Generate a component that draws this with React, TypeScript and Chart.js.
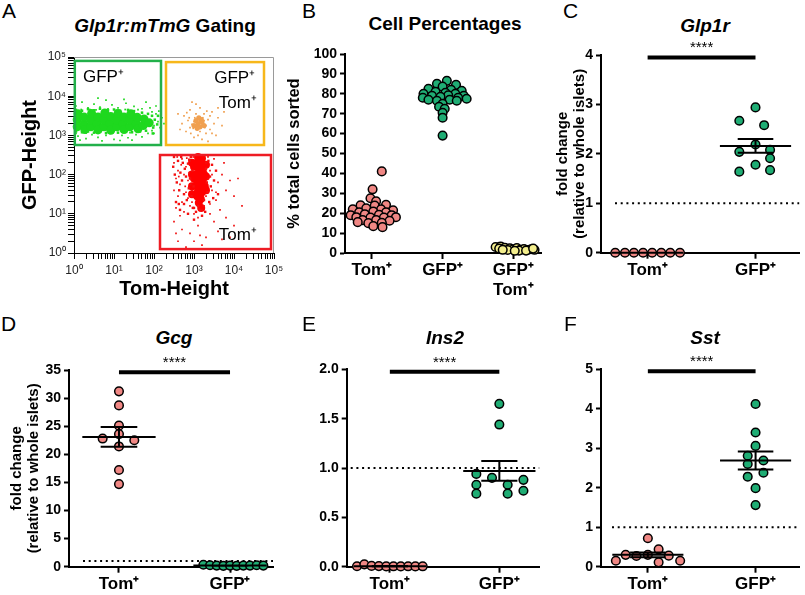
import React, { useEffect, useRef } from 'react';
import { Chart, registerables } from 'chart.js';

Chart.register(...registerables);

const FONT = '"Liberation Sans", Arial, Helvetica, sans-serif';
Chart.defaults.font.family = FONT;
Chart.defaults.color = '#000';

// ---------------- Panel A: flow cytometry gating (log10 values) ----------------
const aTickLabels = ['10⁰', '10¹', '10²', '10³', '10⁴', '10⁵'];
const aMinorSteps = [2, 3, 4, 5, 6, 7, 8, 9];

const greenCoreLog = [
  [0.08, 3.22], [0.08, 3.4], [0.1, 3.55], [0.25, 3.28], [0.25, 3.47], [0.27, 3.15],
  [0.42, 3.22], [0.42, 3.4], [0.44, 3.56], [0.58, 3.3], [0.6, 3.47], [0.6, 3.14],
  [0.75, 3.22], [0.75, 3.4], [0.77, 3.57], [0.9, 3.3], [0.92, 3.48], [0.92, 3.13],
  [1.07, 3.22], [1.07, 3.4], [1.1, 3.56], [1.23, 3.3], [1.25, 3.47], [1.25, 3.15],
  [1.4, 3.22], [1.4, 3.4], [1.42, 3.55], [1.56, 3.3], [1.58, 3.46], [1.6, 3.17],
  [1.73, 3.25], [1.75, 3.42], [1.88, 3.32],
];
const greenMidLog = [
  [0.05, 3.1], [0.2, 3.08], [0.35, 3.1], [0.5, 3.07], [0.65, 3.09], [0.8, 3.06], [0.95, 3.1],
  [1.1, 3.07], [1.3, 3.09], [1.45, 3.08], [1.65, 3.1], [1.8, 3.12], [0.05, 3.65], [0.2, 3.63],
  [0.35, 3.67], [0.5, 3.64], [0.65, 3.68], [0.85, 3.64], [1.0, 3.66], [1.15, 3.63], [1.35, 3.65],
  [1.5, 3.62], [1.7, 3.58], [1.85, 3.55], [1.98, 3.2], [2.02, 3.4], [1.95, 3.5], [2.08, 3.28],
  [1.97, 3.05], [2.1, 3.5],
];
const greenDotsLog = [
  [0.05, 3.75], [0.2, 3.85], [0.35, 3.7], [0.5, 3.8], [0.65, 3.72], [0.8, 3.9], [0.95, 3.78],
  [1.1, 3.7], [1.3, 3.82], [1.5, 3.74], [1.7, 3.68], [1.9, 3.7], [2.05, 3.55], [2.1, 3.35],
  [2.15, 3.2], [2.0, 3.05], [2.2, 3.45], [1.95, 3.6], [2.05, 3.75], [0.1, 2.98], [0.3, 2.92],
  [0.45, 3.02], [0.6, 2.95], [0.8, 3.0], [1.0, 2.9], [1.2, 3.0], [1.35, 2.94], [1.55, 3.02],
  [1.7, 2.96], [1.85, 3.05], [0.15, 2.88], [0.7, 2.86], [1.15, 2.87], [1.45, 2.88], [0.02, 3.65],
  [0.18, 3.66], [0.4, 3.66], [0.85, 3.68], [1.28, 3.66], [1.6, 3.66], [2.0, 3.25], [2.12, 3.62],
  [0.55, 3.65], [1.05, 3.64], [0.3, 3.06], [0.9, 3.05], [1.4, 3.07], [1.95, 3.12], [2.25, 3.3],
  [2.3, 3.5], [1.8, 3.85], [0.6, 3.95], [1.25, 3.92], [0.05, 3.05],
];
const orangeCoreLog = [
  [3.1, 3.3], [3.15, 3.22], [3.05, 3.38], [3.2, 3.35], [3.0, 3.25], [3.12, 3.45],
  [3.25, 3.25], [3.08, 3.18], [3.18, 3.4],
];
const orangeDotsLog = [
  [3.1, 3.3], [3.15, 3.35], [3.05, 3.25], [3.2, 3.28], [3.12, 3.4], [3.0, 3.35], [3.18, 3.2],
  [3.08, 3.15], [3.25, 3.38], [2.95, 3.28], [3.22, 3.45], [3.02, 3.45], [3.3, 3.25], [2.9, 3.2],
  [3.15, 3.1], [3.35, 3.4], [2.85, 3.38], [3.05, 3.55], [3.25, 3.55], [3.4, 3.15], [2.8, 3.1],
  [3.1, 3.0], [3.3, 3.05], [2.75, 3.5], [3.5, 3.3], [3.0, 2.95], [3.2, 2.9], [2.7, 3.3],
  [3.45, 3.6], [3.15, 3.7], [2.9, 3.65], [3.6, 3.45], [2.65, 3.15], [3.55, 3.0], [2.95, 3.85],
  [3.7, 3.25], [3.35, 2.85], [2.6, 3.55], [3.08, 3.32], [3.13, 3.26], [3.18, 3.36], [3.03, 3.38],
  [3.12, 3.22], [3.22, 3.32], [2.98, 3.18], [3.27, 3.2], [3.1, 3.45], [3.4, 3.5], [2.88, 3.45],
  [3.6, 3.7], [3.75, 3.6], [3.05, 3.8], [2.92, 3.05], [3.32, 3.62], [2.82, 3.58], [3.45, 3.05],
];
const redCoreLog = [
  [3.1, 2.45], [3.2, 2.42], [3.08, 2.3], [3.2, 2.28], [3.12, 2.15], [3.22, 2.12], [3.05, 2.0],
  [3.17, 1.98], [3.1, 1.85], [3.22, 1.85], [3.05, 1.72], [3.15, 1.7], [3.1, 1.58], [3.2, 1.55],
  [3.08, 1.45], [3.17, 1.38], [3.12, 1.28], [3.15, 2.38], [3.0, 2.2], [3.0, 1.9], [3.25, 2.0],
  [3.27, 1.7], [2.95, 2.3], [2.95, 2.0], [2.95, 1.7], [3.3, 2.25], [3.3, 1.95], [3.3, 1.6],
  [2.95, 1.5], [3.18, 1.15],
];
const redMidLog = [
  [2.48, 2.2], [2.52, 2.0], [2.57, 1.8], [2.6, 2.35], [2.63, 1.6], [2.66, 2.05], [2.7, 1.85],
  [2.72, 2.3], [2.75, 1.5], [2.77, 2.15], [2.8, 1.95], [2.82, 1.35], [2.85, 2.28], [2.87, 1.65],
  [2.9, 1.9], [2.92, 2.45], [2.94, 1.45], [2.96, 2.1], [2.97, 1.15], [2.99, 1.7], [3.3, 2.15],
  [3.32, 1.8], [3.34, 1.55], [3.36, 2.35], [3.38, 1.3], [3.4, 1.95], [3.42, 1.7], [3.45, 2.25],
  [3.48, 1.4], [3.5, 1.85], [3.55, 2.1], [3.6, 1.5], [3.0, 1.15], [3.05, 1.05], [3.1, 1.2],
  [3.15, 1.1], [3.2, 0.95], [3.25, 1.35], [3.28, 1.05], [3.0, 0.85], [2.55, 1.3], [2.65, 1.1],
  [2.75, 1.25], [2.85, 1.0], [2.68, 2.45], [2.88, 2.38], [2.5, 2.45], [2.62, 1.25],
];
const redDotsLog = [
  [2.5, 2.3], [2.6, 2.1], [2.7, 2.4], [2.8, 2.2], [2.9, 2.35], [2.55, 1.9], [2.65, 1.75],
  [2.75, 2.0], [2.85, 1.85], [2.95, 1.6], [2.5, 1.6], [2.6, 1.45], [2.7, 1.3], [2.8, 1.55],
  [2.9, 1.2], [2.55, 1.15], [2.75, 1.05], [2.85, 1.4], [3.3, 2.3], [3.4, 2.1], [3.35, 1.9],
  [3.45, 1.6], [3.3, 1.45], [3.5, 2.4], [3.6, 1.8], [3.4, 1.25], [3.55, 1.35], [3.7, 2.0],
  [3.8, 1.6], [3.65, 1.1], [3.9, 1.85], [3.75, 2.3], [4.0, 1.45], [4.1, 1.9], [3.2, 1.1],
  [3.0, 1.0], [3.1, 0.9], [2.95, 1.3], [2.68, 2.25], [2.78, 1.7], [2.88, 2.05], [2.58, 2.45],
  [2.98, 2.45], [3.35, 2.45], [3.45, 2.0], [3.25, 1.2], [2.92, 1.75], [2.62, 1.95], [2.82, 2.42],
  [3.55, 1.55], [2.5, 0.8], [2.7, 0.6], [2.9, 0.5], [3.1, 0.7], [3.3, 0.4], [3.5, 0.8],
  [2.6, 0.3], [2.8, 0.15], [3.2, 0.2], [3.6, 0.55], [3.8, 0.9], [4.0, 0.7], [3.4, 1.0],
  [2.55, 0.5], [3.0, 0.3], [3.7, 0.35], [4.2, 1.2], [3.9, 0.4], [2.65, 0.95], [3.15, 0.45],
];

const gateXLog = [[0.02, 2.175], [2.3, 4.75], [2.15, 4.925]];
const gateYLog = [[2.755, 4.9], [2.755, 4.87], [0.1, 2.5]];
const gateColors = ['#22b04a', '#f7b71a', '#ee1c24'];
const gateLabelText = ['GFP⁺', 'GFP⁺', 'Tom⁺', 'Tom⁺'];

// ---------------- Panel B: cell percentages ----------------
const bCategories: (string | string[])[] = ['Tom⁺', 'GFP⁺', ['GFP⁺', 'Tom⁺']];
const bTomValues = [41, 32, 27.5, 26, 24, 23.8, 24.2, 22, 22.5, 22, 21.5, 20.5, 20.8, 20.5, 19, 19.5, 19.2, 19, 18, 17.8, 17.8, 18, 16.5, 16.5, 16.2, 15, 15.2, 15.5, 13.5, 13];
const bTomJitter = [0.14, 0.01, -0.02, 0.06, -0.16, 0.04, 0.2, -0.27, -0.08, 0.13, 0.3, -0.18, 0.02, 0.2, -0.3, -0.1, 0.1, 0.28, -0.22, -0.02, 0.17, 0.34, -0.13, 0.06, 0.25, -0.05, 0.14, -0.2, 0.02, 0.15];
const bGfpValues = [86.5, 85, 84.5, 83.6, 82.5, 82, 81.5, 81, 80.5, 80, 80, 79, 79.2, 79, 78.5, 78, 78, 77.5, 77, 77, 76.5, 76.5, 75, 73.5, 72.5, 70.5, 68, 59];
const bGfpJitter = [0.06, -0.08, 0.19, 0.0, -0.2, 0.12, 0.27, -0.1, 0.04, -0.27, 0.18, -0.15, 0.08, 0.3, -0.03, -0.28, 0.22, 0.34, -0.2, 0.1, -0.08, 0.2, 0.0, -0.05, 0.03, 0.0, 0.0, 0.0];
const bDblValues = [3.0, 3.3, 2.6, 2.2, 2.3, 1.8, 2.5, 1.6, 2.0, 1.5, 1.9, 1.6, 1.5, 1.2, 1.2, 1.6, 2.2, 1.1];
const bDblJitter = [-0.25, -0.18, -0.12, -0.2, -0.05, 0.0, 0.05, 0.1, 0.15, 0.2, 0.25, 0.3, -0.08, 0.08, 0.18, -0.15, 0.28, 0.02];

// ---------------- Panels C-F: qPCR fold change ----------------
const qCategories = ['Tom⁺', 'GFP⁺'];

const cTomValues = [0, 0, 0, 0, 0, 0, 0, 0];
const cTomJitter = [-0.3, -0.21, -0.127, -0.042, 0.042, 0.127, 0.21, 0.3];
const cGfpValues = [2.94, 2.67, 2.58, 2.19, 2.04, 2.08, 1.91, 1.78, 1.64, 1.67];
const cGfpJitter = [0, -0.15, 0.08, 0, -0.15, 0.135, 0.135, 0, -0.15, 0.135];
const cMean = [0, 2.16];
const cSem = [0, 0.14];

const dTomValues = [31.2, 28.7, 25.1, 23.6, 22.8, 22.5, 21.4, 17.2, 14.7];
const dTomJitter = [0, 0, 0, 0, -0.147, 0.138, 0, 0, 0];
const dGfpValues = [0.35, 0.25, 0.2, 0.15, 0.2, 0.15, 0.2, 0.2, 0.25, 0.2];
const dGfpJitter = [-0.24, -0.18, -0.12, -0.06, 0, 0.06, 0.12, 0.18, 0.24, 0.3];
const dMean = [23.1, 0.2];
const dSem = [1.75, 0.02];

const eTomValues = [0.005, 0.024, 0.008, 0.006, 0.003, 0.004, 0.003, 0.004, 0.003, 0.004];
const eTomJitter = [-0.3, -0.233, -0.167, -0.1, -0.033, 0.033, 0.1, 0.167, 0.233, 0.3];
const eGfpValues = [1.65, 1.44, 0.94, 0.9, 0.83, 0.74, 0.83, 0.74, 0.88, 0.77];
const eGfpJitter = [0, 0, -0.21, -0.067, -0.21, -0.21, 0.076, 0.076, 0.22, 0.22];
const eMean = [0.005, 0.97];
const eSem = [0.002, 0.1];

const fTomValues = [0.72, 0.15, 0.3, 0.27, 0.3, 0.44, 0.11, 0.28, 0.15];
const fTomJitter = [0, -0.297, -0.206, -0.106, 0, 0.1, 0.1, 0.194, 0.3];
const fGfpValues = [4.12, 3.4, 3.06, 2.81, 2.69, 2.6, 2.38, 2.28, 1.99, 1.56];
const fGfpJitter = [0, 0, 0, -0.073, 0.073, -0.073, 0.073, -0.073, 0, 0];
const fMean = [0.3, 2.69];
const fSem = [0.06, 0.23];

const SALMON = '#f08784';
const GREEN = '#1fad74';
const YELLOW = '#f3ee8d';

// ---------------- plugins ----------------
const gatePlugin = {
  id: 'gates',
  beforeDatasetsDraw(chart: any) {
    const { ctx, chartArea: ca } = chart;
    ctx.save();
    ctx.strokeStyle = '#9a9a9a';
    ctx.lineWidth = 1;
    ctx.beginPath();
    ctx.moveTo(ca.left, ca.top + 0.5);
    ctx.lineTo(ca.right - 0.5, ca.top + 0.5);
    ctx.lineTo(ca.right - 0.5, ca.bottom);
    ctx.stroke();
    ctx.restore();
  },
  afterDatasetsDraw(chart: any, _a: any, o: any) {
    const { ctx, scales } = chart;
    const X = (v: number) => scales.x.getPixelForValue(10 ** v);
    const Y = (v: number) => scales.y.getPixelForValue(10 ** v);
    ctx.save();
    gateXLog.forEach((xr, i) => {
      const x0 = X(xr[0]), x1 = X(xr[1]);
      const y0 = Y(gateYLog[i][0]), y1 = Y(gateYLog[i][1]);
      ctx.strokeStyle = gateColors[i];
      ctx.lineWidth = 2.5;
      ctx.strokeRect(x0, y1, x1 - x0, y0 - y1);
    });
    ctx.fillStyle = '#000';
    ctx.font = `17px ${FONT}`;
    ctx.textBaseline = 'alphabetic';
    o.labelPos.forEach((p: any, i: number) => {
      ctx.textAlign = p.align;
      ctx.fillText(gateLabelText[i], X(p.x), Y(p.y));
    });
    ctx.restore();
  },
};

const dotDeco = {
  id: 'dotDeco',
  beforeDatasetsDraw(chart: any, _a: any, o: any) {
    if (o.refLine == null) return;
    const { ctx, chartArea: ca, scales } = chart;
    const py = scales.y.getPixelForValue(o.refLine);
    ctx.save();
    ctx.strokeStyle = '#000';
    ctx.lineWidth = 2;
    ctx.setLineDash([2, 3.7]);
    ctx.beginPath();
    ctx.moveTo(ca.left + o.refInset, py);
    ctx.lineTo(ca.right, py);
    ctx.stroke();
    ctx.restore();
  },
  afterDatasetsDraw(chart: any, _a: any, o: any) {
    const { ctx, scales } = chart;
    const x = scales.x, y = scales.y;
    ctx.save();
    ctx.strokeStyle = '#000';
    (o.means || []).forEach((m: number, i: number) => {
      const cx = x.getPixelForValue(i);
      const half = x.getPixelForValue(i + 0.33) - cx;
      const cap = x.getPixelForValue(i + 0.165) - cx;
      const pm = y.getPixelForValue(m);
      const pu = y.getPixelForValue(m + o.sems[i]);
      const pl = y.getPixelForValue(m - o.sems[i]);
      ctx.lineWidth = 2;
      ctx.beginPath();
      ctx.moveTo(cx - half, pm); ctx.lineTo(cx + half, pm);
      ctx.moveTo(cx - cap, pu); ctx.lineTo(cx + cap, pu);
      ctx.moveTo(cx - cap, pl); ctx.lineTo(cx + cap, pl);
      ctx.moveTo(cx, pu); ctx.lineTo(cx, pl);
      ctx.stroke();
    });
    if (o.sigY != null) {
      const py = y.getPixelForValue(o.sigY);
      const x0 = x.getPixelForValue(0), x1 = x.getPixelForValue(1);
      ctx.lineWidth = 4;
      ctx.beginPath();
      ctx.moveTo(x0, py); ctx.lineTo(x1, py);
      ctx.stroke();
      ctx.fillStyle = '#000';
      ctx.font = `15px ${FONT}`;
      ctx.textAlign = 'center';
      ctx.textBaseline = 'alphabetic';
      ctx.fillText(o.sigText, (x0 + x1) / 2, py - 5);
    }
    ctx.restore();
  },
};

// ---------------- configs ----------------
const toPts = (arr: number[][]) => arr.map(([a, b]) => ({ x: 10 ** a, y: 10 ** b }));

function logAxis(title: string, isX: boolean, size: number) {
  const values: number[] = [];
  const majors: boolean[] = [];
  for (let e = 0; e < aTickLabels.length; e++) {
    values.push(10 ** e);
    majors.push(true);
    if (e < aTickLabels.length - 1) aMinorSteps.forEach((m) => { values.push(m * 10 ** e); majors.push(false); });
  }
  return {
    type: 'logarithmic',
    min: 1,
    max: 1e5,
    afterBuildTicks: (s: any) => {
      s.ticks = values.map((v, i) => ({ value: v, major: majors[i] }));
    },
    afterFit: (s: any) => {
      if (isX) s.height = size; else s.width = size;
    },
    ticks: {
      autoSkip: false,
      maxRotation: 0,
      padding: isX ? 4 : 2,
      font: { size: 12 },
      color: '#222',
      callback: (v: number, i: number, t: any[]) => (t[i].major ? aTickLabels[Math.round(Math.log10(v))] : ''),
    },
    grid: { display: true, drawOnChartArea: false, drawTicks: true, tickLength: 6, tickColor: '#000', tickWidth: 1 },
    border: { display: true, color: '#000', width: 1 },
    title: { display: true, text: title, font: { size: 20, weight: 'bold' }, color: '#000', padding: { top: 4, bottom: 4 } },
  };
}

function configA() {
  return {
    type: 'scatter',
    data: {
      datasets: [
        { data: toPts(greenDotsLog), backgroundColor: '#1ed81e', pointStyle: 'rect', pointRadius: 1.2, borderWidth: 0 },
        { data: toPts(greenMidLog), backgroundColor: '#1ed81e', pointStyle: 'rect', pointRadius: 1.8, borderWidth: 0 },
        { data: toPts(greenCoreLog), backgroundColor: '#1ed81e', pointRadius: 4.5, borderWidth: 0 },
        { data: toPts(orangeDotsLog), backgroundColor: '#f0a050', pointStyle: 'rect', pointRadius: 1.2, borderWidth: 0 },
        { data: toPts(orangeCoreLog), backgroundColor: '#f0a050', pointRadius: 2.6, borderWidth: 0 },
        { data: toPts(redDotsLog), backgroundColor: '#f01010', pointStyle: 'rect', pointRadius: 1.2, borderWidth: 0 },
        { data: toPts(redMidLog), backgroundColor: '#f51010', pointStyle: 'rect', pointRadius: 1.7, borderWidth: 0 },
        { data: toPts(redCoreLog), backgroundColor: '#ff0000', pointRadius: 4, borderWidth: 0 },
      ].map((d) => ({ ...d, clip: false, pointHoverRadius: d.pointRadius })),
    },
    options: {
      animation: false,
      responsive: false,
      devicePixelRatio: 1,
      events: [],
      layout: { padding: { left: 0, right: 16, top: 17, bottom: 0 } },
      plugins: {
        legend: { display: false },
        tooltip: { enabled: false },
        gates: {
          labelPos: [
            { x: 0.225, y: 4.36, align: 'left' },
            { x: 4.53, y: 4.34, align: 'right' },
            { x: 4.57, y: 3.7, align: 'right' },
            { x: 4.57, y: 0.33, align: 'right' },
          ],
        },
      },
      scales: {
        x: logAxis('Tom-Height', true, 52),
        y: logAxis('GFP-Height', false, 60),
      },
    },
    plugins: [gatePlugin],
  };
}

type Group = { values: number[]; jitter: number[]; color: string };
type DotSpec = {
  groups: Group[];
  labels: (string | string[])[];
  xMin: number; xMax: number;
  yMax: number; yStep: number; yDigits: number;
  yTitle: string | string[] | null; yTitleSize?: number;
  yWidth: number; xHeight: number; padTop: number; padRight: number;
  means?: number[]; sems?: number[]; sigY?: number; refLine?: number; refInset?: number;
};

function dotConfig(p: DotSpec) {
  return {
    type: 'scatter',
    data: {
      datasets: p.groups.map((g, gi) => ({
        data: g.values.map((v, k) => ({ x: gi + g.jitter[k], y: v })),
        backgroundColor: g.color,
        borderColor: '#000',
        borderWidth: 1.5,
        pointRadius: 4.3,
        pointHoverRadius: 4.3,
        clip: false,
      })),
    },
    options: {
      animation: false,
      responsive: false,
      devicePixelRatio: 1,
      events: [],
      layout: { padding: { left: 0, right: p.padRight, top: p.padTop, bottom: 0 } },
      plugins: {
        legend: { display: false },
        tooltip: { enabled: false },
        dotDeco: {
          means: p.means, sems: p.sems, sigY: p.sigY, sigText: '****',
          refLine: p.refLine, refInset: p.refInset ?? 12,
        },
      },
      scales: {
        x: {
          type: 'linear',
          min: p.xMin,
          max: p.xMax,
          afterBuildTicks: (s: any) => { s.ticks = p.labels.map((_, i) => ({ value: i })); },
          afterFit: (s: any) => { s.height = p.xHeight; },
          ticks: {
            autoSkip: false,
            maxRotation: 0,
            padding: 1,
            font: { size: 17, weight: 'bold' },
            color: '#000',
            callback: (v: number) => p.labels[Math.round(v)],
          },
          grid: { display: true, drawOnChartArea: false, drawTicks: true, tickLength: 6, tickWidth: 2, tickColor: '#000' },
          border: { display: true, color: '#000', width: 2 },
        },
        y: {
          min: 0,
          max: p.yMax,
          afterFit: (s: any) => { s.width = p.yWidth; },
          ticks: {
            stepSize: p.yStep,
            padding: 3,
            font: { size: 14, weight: 'bold' },
            color: '#000',
            callback: (v: number) => v.toFixed(p.yDigits),
          },
          grid: { display: true, drawOnChartArea: false, drawTicks: true, tickLength: 5, tickWidth: 2, tickColor: '#000' },
          border: { display: true, color: '#000', width: 2 },
          title: p.yTitle
            ? { display: true, text: p.yTitle, font: { size: p.yTitleSize ?? 15, weight: 'bold', lineHeight: 1.15 }, color: '#000', padding: { top: 4, bottom: 4 } }
            : { display: false },
        },
      },
    },
    plugins: [dotDeco],
  };
}

const foldTitle = ['fold change', '(relative to whole islets)'];

const configB = () => dotConfig({
  groups: [
    { values: bTomValues, jitter: bTomJitter, color: SALMON },
    { values: bGfpValues, jitter: bGfpJitter, color: GREEN },
    { values: bDblValues, jitter: bDblJitter, color: YELLOW },
  ],
  labels: bCategories, xMin: -0.38, xMax: 2.394, yMax: 100, yStep: 10, yDigits: 0,
  yTitle: '% total cells sorted', yTitleSize: 16.5, yWidth: 64, xHeight: 52, padTop: 14, padRight: 4,
});

const configC = () => dotConfig({
  groups: [
    { values: cTomValues, jitter: cTomJitter, color: SALMON },
    { values: cGfpValues, jitter: cGfpJitter, color: GREEN },
  ],
  labels: qCategories, xMin: -0.432, xMax: 1.405, yMax: 4, yStep: 1, yDigits: 0,
  yTitle: foldTitle, yWidth: 51, xHeight: 52.3, padTop: 15, padRight: 0,
  means: cMean, sems: cSem, sigY: 3.95, refLine: 1, refInset: 14,
});

const configD = () => dotConfig({
  groups: [
    { values: dTomValues, jitter: dTomJitter, color: SALMON },
    { values: dGfpValues, jitter: dGfpJitter, color: GREEN },
  ],
  labels: qCategories, xMin: -0.45, xMax: 1.387, yMax: 35, yStep: 5, yDigits: 0,
  yTitle: foldTitle, yWidth: 65, xHeight: 28.3, padTop: 15, padRight: 6,
  means: dMean, sems: dSem, sigY: 34.6, refLine: 1, refInset: 14,
});

const configE = () => dotConfig({
  groups: [
    { values: eTomValues, jitter: eTomJitter, color: SALMON },
    { values: eGfpValues, jitter: eGfpJitter, color: GREEN },
  ],
  labels: qCategories, xMin: -0.394, xMax: 1.364, yMax: 2, yStep: 0.5, yDigits: 1,
  yTitle: null, yWidth: 46.7, xHeight: 28.3, padTop: 14.3, padRight: 5,
  means: eMean, sems: eSem, sigY: 1.975, refLine: 1, refInset: 4,
});

const configF = () => dotConfig({
  groups: [
    { values: fTomValues, jitter: fTomJitter, color: SALMON },
    { values: fGfpValues, jitter: fGfpJitter, color: GREEN },
  ],
  labels: qCategories, xMin: -0.435, xMax: 1.405, yMax: 5, yStep: 1, yDigits: 0,
  yTitle: null, yWidth: 46, xHeight: 28.3, padTop: 14.3, padRight: 0,
  means: fMean, sems: fSem, sigY: 4.95, refLine: 1, refInset: 11,
});

// ---------------- components ----------------
function ChartBox(props: { left: number; top: number; width: number; height: number; make: () => any }) {
  const ref = useRef<HTMLCanvasElement | null>(null);
  useEffect(() => {
    const chart = new Chart(ref.current as HTMLCanvasElement, props.make() as any);
    return () => chart.destroy();
  }, []);
  return (
    <canvas
      ref={ref}
      width={props.width}
      height={props.height}
      style={{ position: 'absolute', left: props.left, top: props.top, width: props.width, height: props.height }}
    />
  );
}

function Letter({ x, y, t }: { x: number; y: number; t: string }) {
  return (
    <div style={{ position: 'absolute', left: x, top: y, font: `21px ${FONT}`, lineHeight: 1, color: '#000' }}>{t}</div>
  );
}

function Title({ cx, cy, children }: { cx: number; cy: number; children: React.ReactNode }) {
  return (
    <div
      style={{
        position: 'absolute', left: cx, top: cy, transform: 'translate(-50%, -50%)',
        font: `bold 19px ${FONT}`, lineHeight: 1, whiteSpace: 'nowrap', color: '#000',
      }}
    >
      {children}
    </div>
  );
}

export default function App() {
  return (
    <div style={{ position: 'fixed', left: 0, top: 0, width: 805, height: 595, background: '#fff', overflow: 'hidden' }}>
      <ChartBox left={14} top={40} width={276} height={265} make={configA} />
      <ChartBox left={281} top={40} width={266} height={265} make={configB} />
      <ChartBox left={550} top={40} width={255} height={265} make={configC} />
      <ChartBox left={4} top={355} width={275} height={240} make={configD} />
      <ChartBox left={300} top={355} width={245} height={240} make={configE} />
      <ChartBox left={555} top={355} width={250} height={240} make={configF} />

      <Letter x={2} y={0} t="A" />
      <Letter x={302} y={0} t="B" />
      <Letter x={563} y={0} t="C" />
      <Letter x={1} y={313} t="D" />
      <Letter x={302} y={313} t="E" />
      <Letter x={564} y={313} t="F" />

      <Title cx={165} cy={25}><i>Glp1r:mTmG</i> Gating</Title>
      <Title cx={445} cy={23}>Cell Percentages</Title>
      <Title cx={705} cy={25}><i>Glp1r</i></Title>
      <Title cx={174} cy={337}><i>Gcg</i></Title>
      <Title cx={445} cy={337}><i>Ins2</i></Title>
      <Title cx={705} cy={337}><i>Sst</i></Title>
    </div>
  );
}
